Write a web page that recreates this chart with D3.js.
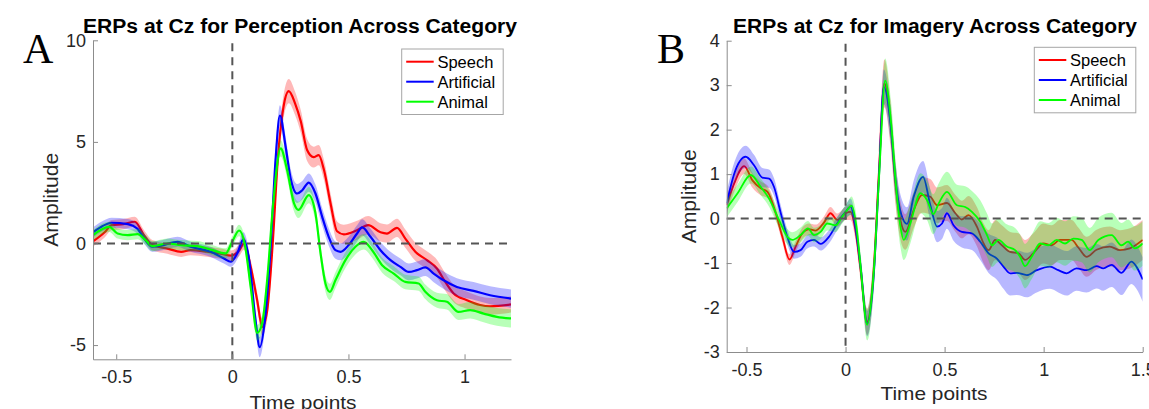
<!DOCTYPE html>
<html>
<head>
<meta charset="utf-8">
<script src="https://cdn.jsdelivr.net/npm/d3@7"></script>
<style>
  body { margin: 0; background: #fff; }
  svg { display: block; font-family: "Liberation Sans", Arial, Helvetica, sans-serif; }
</style>
</head>
<body>
<svg id="chart" width="1149" height="409"></svg>
<script>
// ---- Panel A: perception (time in s, amplitude) ----
const speechA = [[-0.6,0.1],[-0.55,0.55],[-0.52,0.9],[-0.47,0.95],[-0.42,1.07],[-0.38,0.4],[-0.345,-0.08],[-0.28,-0.25],[-0.22,-0.41],[-0.18,-0.33],[-0.11,-0.4],[-0.05,-0.5],[-0.005,-0.6],[0.03,-0.33],[0.05,0.0],[0.079,-1.15],[0.107,-2.8],[0.129,-4.1],[0.15,-3.3],[0.175,0.2],[0.195,4.0],[0.22,6.7],[0.243,7.5],[0.27,6.9],[0.295,6.0],[0.322,4.6],[0.35,4.25],[0.372,4.35],[0.395,3.6],[0.423,1.97],[0.451,0.6],[0.48,0.45],[0.537,0.65],[0.585,0.9],[0.638,0.55],[0.666,0.49],[0.709,0.77],[0.745,0.24],[0.788,-0.41],[0.838,-0.82],[0.881,-1.23],[0.917,-1.89],[0.953,-2.46],[1.01,-2.79],[1.067,-3.03],[1.11,-3.09],[1.2,-3.0]];
const artificialA = [[-0.6,0.55],[-0.56,0.85],[-0.52,1.02],[-0.45,0.95],[-0.41,0.74],[-0.38,0.25],[-0.345,-0.16],[-0.3,-0.08],[-0.236,0.08],[-0.18,-0.16],[-0.093,-0.41],[-0.036,-0.74],[-0.007,-0.9],[0.021,-0.49],[0.048,0.2],[0.072,-0.8],[0.1,-3.78],[0.118,-5.1],[0.143,-3.45],[0.165,-0.16],[0.186,4.1],[0.205,6.3],[0.229,4.8],[0.251,3.2],[0.279,2.46],[0.301,2.62],[0.329,3.0],[0.358,2.46],[0.387,1.31],[0.415,0.33],[0.444,-0.33],[0.466,-0.41],[0.501,-0.08],[0.537,0.49],[0.559,0.79],[0.595,0.33],[0.638,-0.33],[0.681,-0.82],[0.724,-1.15],[0.76,-1.4],[0.795,-1.31],[0.831,-1.18],[0.867,-1.48],[0.91,-1.81],[0.967,-2.14],[1.039,-2.33],[1.11,-2.55],[1.2,-2.71]];
const animalA = [[-0.6,0.41],[-0.53,0.82],[-0.494,0.49],[-0.451,0.41],[-0.408,0.46],[-0.373,0.16],[-0.344,-0.13],[-0.279,0.0],[-0.222,-0.08],[-0.15,-0.13],[-0.093,-0.3],[-0.029,-0.49],[0.0,0.1],[0.029,0.64],[0.053,0.0],[0.079,-2.13],[0.107,-4.4],[0.129,-3.9],[0.15,-1.8],[0.176,1.97],[0.208,4.68],[0.236,3.6],[0.265,2.0],[0.285,1.65],[0.329,2.38],[0.358,1.48],[0.38,-0.49],[0.401,-1.97],[0.42,-2.38],[0.444,-1.81],[0.487,-0.82],[0.53,-0.16],[0.566,0.08],[0.602,-0.33],[0.645,-1.07],[0.695,-1.48],[0.745,-1.89],[0.802,-1.97],[0.831,-2.38],[0.881,-2.79],[0.924,-2.87],[0.974,-3.37],[1.024,-3.28],[1.082,-3.45],[1.139,-3.61],[1.2,-3.69]];
// shaded error half-widths [time, width]
const semSpeechA = [[-0.6,0.25],[0,0.25],[0.12,0.4],[0.24,0.6],[0.37,0.5],[0.6,0.45],[0.75,0.45],[1.2,0.4]];
const semArtificialA = [[-0.6,0.25],[0,0.25],[0.12,0.5],[0.2,0.5],[0.33,0.45],[0.55,0.4],[1.2,0.45]];
const semAnimalA = [[-0.6,0.25],[0,0.25],[0.12,0.4],[0.42,0.4],[0.8,0.35],[1.2,0.45]];

// ---- Panel B: imagery ----
const speechB = [[-0.6,0.3],[-0.562,0.79],[-0.512,1.18],[-0.47,0.86],[-0.428,0.68],[-0.394,0.6],[-0.352,0.12],[-0.319,-0.41],[-0.283,-0.92],[-0.252,-0.63],[-0.218,-0.33],[-0.185,-0.24],[-0.151,-0.27],[-0.109,-0.09],[-0.076,0.12],[-0.042,-0.03],[0.0,0.12],[0.025,0.15],[0.05,-0.26],[0.076,-1.16],[0.109,-2.32],[0.143,-1.08],[0.168,1.01],[0.196,3.04],[0.227,2.14],[0.252,0.79],[0.285,-0.18],[0.302,-0.3],[0.344,0.19],[0.386,0.53],[0.428,0.49],[0.462,0.3],[0.512,0.35],[0.554,0.12],[0.587,-0.02],[0.621,0.08],[0.663,-0.18],[0.697,-0.56],[0.722,-0.71],[0.755,-0.48],[0.789,-0.6],[0.831,-0.75],[0.873,-0.78],[0.906,-0.93],[0.948,-0.78],[0.998,-0.56],[1.04,-0.6],[1.082,-0.48],[1.141,-0.48],[1.175,-0.65],[1.217,-0.86],[1.267,-0.7],[1.334,-0.63],[1.385,-0.71],[1.435,-0.67],[1.5,-0.48]];
const artificialB = [[-0.6,0.34],[-0.562,1.01],[-0.504,1.39],[-0.462,1.2],[-0.42,0.92],[-0.386,0.9],[-0.361,0.71],[-0.327,0.12],[-0.294,-0.41],[-0.26,-0.75],[-0.227,-0.71],[-0.193,-0.52],[-0.159,-0.48],[-0.126,-0.57],[-0.084,-0.41],[-0.042,-0.11],[0.0,0.15],[0.025,0.27],[0.05,-0.18],[0.076,-1.08],[0.109,-2.36],[0.143,-1.23],[0.168,0.87],[0.193,2.96],[0.227,2.14],[0.252,0.87],[0.285,0.04],[0.31,-0.12],[0.344,0.49],[0.391,0.94],[0.428,0.3],[0.462,-0.18],[0.487,-0.11],[0.512,0.12],[0.545,-0.15],[0.587,-0.3],[0.638,-0.33],[0.68,-0.52],[0.722,-0.78],[0.764,-0.9],[0.797,-1.08],[0.831,-1.23],[0.864,-1.22],[0.915,-1.27],[0.965,-1.16],[1.032,-1.08],[1.074,-1.16],[1.116,-1.23],[1.166,-1.12],[1.217,-1.16],[1.267,-1.07],[1.301,-1.12],[1.343,-1.04],[1.393,-1.22],[1.443,-0.97],[1.468,-1.08],[1.5,-1.37]];
const animalB = [[-0.6,0.23],[-0.545,0.57],[-0.478,0.98],[-0.428,0.71],[-0.386,0.45],[-0.336,-0.03],[-0.294,-0.41],[-0.269,-0.48],[-0.227,-0.37],[-0.19,-0.22],[-0.159,-0.37],[-0.126,-0.3],[-0.092,-0.11],[-0.05,-0.15],[-0.017,0.04],[0.008,0.19],[0.03,0.29],[0.055,-0.18],[0.076,-1.08],[0.109,-2.39],[0.143,-1.16],[0.17,1.01],[0.2,3.1],[0.23,2.14],[0.255,0.72],[0.277,-0.18],[0.294,-0.48],[0.327,-0.11],[0.378,0.57],[0.411,0.42],[0.443,0.1],[0.47,0.34],[0.512,0.6],[0.562,0.3],[0.604,0.26],[0.638,0.15],[0.68,-0.07],[0.714,-0.37],[0.739,-0.6],[0.772,-0.48],[0.814,-0.63],[0.856,-0.71],[0.881,-0.86],[0.906,-1.07],[0.94,-0.86],[0.982,-0.56],[1.024,-0.6],[1.066,-0.48],[1.108,-0.56],[1.15,-0.45],[1.192,-0.48],[1.233,-0.71],[1.276,-0.48],[1.343,-0.37],[1.393,-0.6],[1.426,-0.52],[1.46,-0.67],[1.5,-0.56]];
const semSpeechB = [[-0.6,0.2],[-0.3,0.12],[0,0.15],[0.11,0.3],[0.2,0.55],[0.3,0.4],[0.5,0.4],[0.7,0.45],[1.5,0.45]];
const semArtificialB = [[-0.6,0.25],[-0.5,0.25],[-0.25,0.15],[0,0.15],[0.2,0.4],[0.4,0.35],[0.6,0.35],[0.8,0.5],[1.5,0.5]];
const semAnimalB = [[-0.6,0.2],[0,0.15],[0.11,0.35],[0.2,0.5],[0.3,0.45],[0.5,0.45],[0.8,0.5],[1.5,0.5]];

const categories = ["Speech", "Artificial", "Animal"];
const colors = ["#ff0000", "#0000ff", "#00ff00"];
const xTicksA = [-0.5, 0, 0.5, 1];
const yTicksA = [-5, 0, 5, 10];
const xTicksB = [-0.5, 0, 0.5, 1, 1.5];
const yTicksB = [-3, -2, -1, 0, 1, 2, 3, 4];

const svg = d3.select("#chart");

function drawPanel(p) {
    const x = d3.scaleLinear().domain(p.xDomain).range([p.left, p.right]);
    const y = d3.scaleLinear().domain(p.yDomain).range([p.bottom, p.top]);

    // clip region for the traces
    svg.append("clipPath").attr("id", p.id + "-clip")
        .append("rect")
        .attr("x", p.left).attr("y", p.top)
        .attr("width", p.right - p.left).attr("height", p.bottom - p.top);

    const g = svg.append("g").attr("clip-path", `url(#${p.id}-clip)`);

    p.series.forEach((s, i) => {
        const w = d3.scaleLinear().domain(s.sem.map(d => d[0])).range(s.sem.map(d => d[1])).clamp(true);
        const band = d3.area()
            .x(d => x(d[0]))
            .y0(d => y(d[1] - w(d[0])))
            .y1(d => y(d[1] + w(d[0])))
            .curve(d3.curveMonotoneX);
        const line = d3.line()
            .x(d => x(d[0]))
            .y(d => y(d[1]))
            .curve(d3.curveMonotoneX);
        g.append("path").datum(s.data)
            .attr("d", band)
            .attr("fill", colors[i])
            .attr("fill-opacity", 0.28)
            .attr("stroke", "none");
        g.append("path").datum(s.data)
            .attr("d", line)
            .attr("fill", "none")
            .attr("stroke", colors[i])
            .attr("stroke-width", p.lineWidth);
    });

    // dashed reference lines
    svg.append("line")
        .attr("x1", x(p.xDomain[0])).attr("x2", x(p.xDomain[1]))
        .attr("y1", y(0)).attr("y2", y(0))
        .attr("stroke", "#555").attr("stroke-width", 2).attr("stroke-dasharray", "8,6");
    svg.append("line")
        .attr("x1", x(0)).attr("x2", x(0))
        .attr("y1", p.top + 3).attr("y2", p.bottom)
        .attr("stroke", "#555").attr("stroke-width", 2).attr("stroke-dasharray", "8,6");

    // axes (left and bottom only, inward ticks)
    const xAxis = svg.append("g")
        .attr("transform", `translate(0,${p.bottom})`)
        .call(d3.axisBottom(x).tickValues(p.xTicks).tickFormat(d => String(d)).tickSizeInner(-5).tickSizeOuter(0).tickPadding(11));
    const yAxis = svg.append("g")
        .attr("transform", `translate(${p.left},0)`)
        .call(d3.axisLeft(y).tickValues(p.yTicks).tickFormat(d => String(d)).tickSizeInner(-5).tickSizeOuter(0).tickPadding(7));
    [xAxis, yAxis].forEach(a => {
        a.select(".domain").attr("stroke", "#8c8c8c");
        a.selectAll(".tick line").attr("stroke", "#8c8c8c");
        a.selectAll(".tick text")
            .attr("fill", "#262626")
            .style("font-size", "18px")
            .style("font-family", '"Liberation Sans", Arial, sans-serif');
    });

    // title and axis labels
    svg.append("text")
        .attr("x", p.titleX).attr("y", 33)
        .attr("textLength", p.titleLen).attr("lengthAdjust", "spacingAndGlyphs")
        .style("font-size", "20px").style("font-weight", "bold")
        .attr("fill", "#000")
        .text(p.title);
    svg.append("text")
        .attr("x", p.xLabelX).attr("y", p.xLabelY)
        .attr("text-anchor", "middle")
        .attr("textLength", 107).attr("lengthAdjust", "spacingAndGlyphs")
        .style("font-size", "19px").attr("fill", "#262626")
        .text("Time points");
    svg.append("text")
        .attr("transform", `translate(${p.yLabelX},${(p.top + p.bottom) / 2}) rotate(-90)`)
        .attr("text-anchor", "middle")
        .attr("textLength", 94).attr("lengthAdjust", "spacingAndGlyphs")
        .style("font-size", "19.5px").attr("fill", "#262626")
        .text("Amplitude");

    // panel letter
    svg.append("text")
        .attr("x", p.letterX).attr("y", 63)
        .style("font-family", '"Liberation Serif", "Times New Roman", serif')
        .style("font-size", "42px").attr("fill", "#000")
        .text(p.letter);

    // legend
    const lg = svg.append("g").attr("transform", `translate(${p.legendX},${p.legendY})`);
    lg.append("rect")
        .attr("width", 101.5).attr("height", 65.5)
        .attr("fill", "#fff").attr("stroke", "#a6a6a6").attr("stroke-width", 1);
    categories.forEach((c, i) => {
        const ly = 12.7 + i * 20;
        lg.append("line")
            .attr("x1", 4.5).attr("x2", 32).attr("y1", ly).attr("y2", ly)
            .attr("stroke", colors[i]).attr("stroke-width", 2);
        lg.append("text")
            .attr("x", 35.7).attr("y", ly).attr("dy", "0.36em")
            .style("font-size", "16.5px").attr("fill", "#000")
            .text(c);
    });
}

drawPanel({
    id: "pa", letter: "A", letterX: 23,
    left: 93, right: 511, top: 40.3, bottom: 359.3,
    xDomain: [-0.6, 1.2], yDomain: [-5.7, 10],
    xTicks: xTicksA, yTicks: yTicksA, lineWidth: 2.2,
    title: "ERPs at Cz for Perception Across Category", titleX: 83, titleLen: 434,
    xLabelX: 303, xLabelY: 409, yLabelX: 58,
    legendX: 401.7, legendY: 49,
    series: [
        { data: speechA, sem: semSpeechA },
        { data: artificialA, sem: semArtificialA },
        { data: animalA, sem: semAnimalA }
    ]
});

drawPanel({
    id: "pb", letter: "B", letterX: 657,
    left: 726.7, right: 1142.7, top: 40.7, bottom: 352,
    xDomain: [-0.6, 1.5], yDomain: [-3, 4],
    xTicks: xTicksB, yTicks: yTicksB, lineWidth: 1.8,
    title: "ERPs at Cz for Imagery Across Category", titleX: 733, titleLen: 404,
    xLabelX: 934, xLabelY: 400, yLabelX: 696,
    legendX: 1034.3, legendY: 47.3,
    series: [
        { data: speechB, sem: semSpeechB },
        { data: artificialB, sem: semArtificialB },
        { data: animalB, sem: semAnimalB }
    ]
});
</script>
</body>
</html>
